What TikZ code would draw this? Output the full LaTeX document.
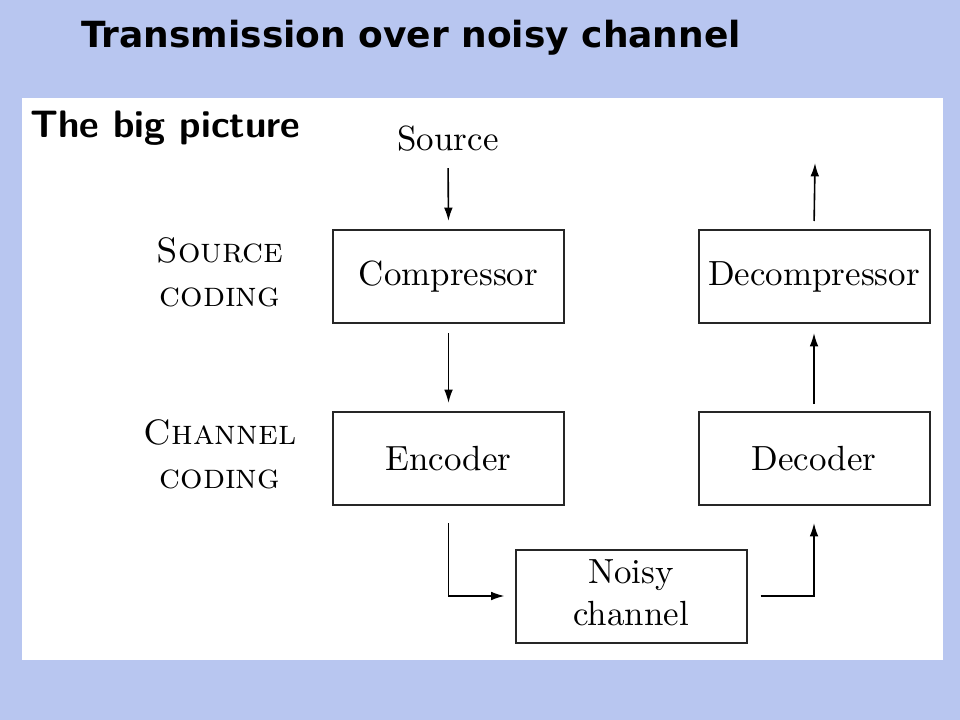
\documentclass[tikz,border=0pt]{standalone}
\usepackage{fontspec}
\usepackage{graphicx}
\newfontfamily\titlefont{DejaVu Sans}
\usetikzlibrary{arrows.meta,calc}
\definecolor{bgblue}{RGB}{184,198,240}
\newcommand\bigtxt[1]{\scalebox{2.62}{\fontsize{10}{12}\selectfont #1}}
\newcommand\labtxt[1]{\scalebox{2.65}{\fontsize{10}{12.5}\selectfont\scshape #1}}
\tikzset{
  blockbox/.style={draw=black!85,line width=1.5pt,minimum width=173.25pt,minimum height=69.75pt,inner sep=0pt,align=center},
  arr/.style={line width=1.2pt,-{Latex[length=10pt,width=6.5pt]}},
  sidelabel/.style={align=center,inner sep=0pt}
}
\begin{document}
\begin{tikzpicture}[x=0.75pt,y=-0.75pt]
\useasboundingbox (0,0) rectangle (960,720);
\fill[bgblue] (0,0) rectangle (960,720);
\fill[white] (22,98) rectangle (943,660);
\node[font=\titlefont\bfseries\fontsize{27}{32}\selectfont] (title) at (411,38) {Transmission over noisy channel};
\node[font=\sffamily\bfseries\fontsize{28.7}{34}\selectfont,anchor=west,inner sep=0pt] (big) at (30,128) {The big picture};
\node[inner sep=0pt,anchor=base] (src) at (448,151) {\bigtxt{Source}};
\node[blockbox] (comp) at (448.5,276.5) {\bigtxt{Compressor}};
\node[blockbox] (decomp) at (814,276.5) {\bigtxt{Decompressor}};
\node[blockbox] (enc) at (448.5,458.5) {\bigtxt{Encoder}};
\node[blockbox] (dec) at (814,458.5) {\bigtxt{Decoder}};
\node[blockbox] (noisy) at (631,596) {\bigtxt{\begin{tabular}{@{}c@{}}Noisy\\channel\end{tabular}}};
\node[sidelabel] (scod) at (220,276) {\labtxt{\begin{tabular}{@{}c@{}}Source\\coding\end{tabular}}};
\node[sidelabel] (ccod) at (220,458) {\labtxt{\begin{tabular}{@{}c@{}}Channel\\coding\end{tabular}}};
\coordinate (out) at (815,163);
\draw[arr,shorten <=12pt,shorten >=6pt] (src.south) -- (comp.north);
\draw[arr,shorten <=6.75pt,shorten >=6pt] (comp.south) -- (enc.north);
\draw[arr,shorten >=7.5pt] ([yshift=-12.75pt]enc.south) |- (noisy.west);
\draw[arr] ([xshift=9.75pt]noisy.east) -| ([yshift=-12.75pt]dec.south);
\draw[arr,shorten <=5.25pt,shorten >=6.75pt] (dec.north) -- (decomp.south);
\draw[arr,shorten <=6pt] (decomp.north) -- (out);
\end{tikzpicture}
\end{document}
